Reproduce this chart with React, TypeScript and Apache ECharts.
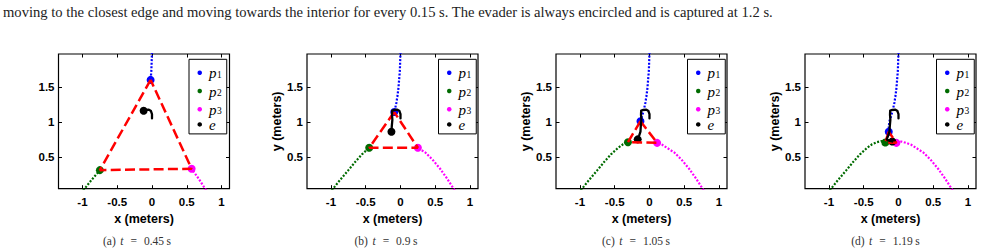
import React, { useEffect, useRef } from 'react';
import * as echarts from 'echarts';

// ---------- data ----------
const PANEL_TAGS = ['(a)', '(b)', '(c)', '(d)'];
const PANEL_TIMES = ['0.45', '0.9', '1.05', '1.19'];
const X_TICKS = [-1, -0.5, 0, 0.5, 1];
const Y_TICKS = [0.5, 1, 1.5];
const LEGEND_NAMES = ['p1', 'p2', 'p3', 'e'];

// pursuer p1 (blue) path, from the top
const P1_PATH = [
  [0.0, 2.0], [-0.005, 1.85], [-0.01, 1.72], [-0.02, 1.6], [-0.03, 1.48], [-0.045, 1.36],
  [-0.06, 1.27], [-0.075, 1.2], [-0.09, 1.14], [-0.11, 1.07], [-0.13, 1.01], [-0.14, 0.93],
  [-0.14, 0.86],
];
// pursuer p2 (green) path, from bottom-left
const P2_PATH = [
  [-0.99, 0.02], [-0.87, 0.17], [-0.75, 0.31], [-0.65, 0.43], [-0.55, 0.54], [-0.45, 0.63],
  [-0.38, 0.68], [-0.31, 0.71], [-0.25, 0.725], [-0.19, 0.705],
];
// pursuer p3 (magenta) path, from bottom-right
const P3_PATH = [
  [0.78, 0.02], [0.67, 0.19], [0.57, 0.33], [0.47, 0.45], [0.36, 0.56], [0.25, 0.63],
  [0.18, 0.675], [0.11, 0.7], [0.04, 0.72], [-0.03, 0.7],
];
// evader path
const E_PATH = [
  [0.0, 1.05], [0.0, 1.11], [-0.015, 1.155], [-0.045, 1.175], [-0.085, 1.172], [-0.12, 1.16],
  [-0.122, 1.1], [-0.117, 1.03], [-0.125, 0.94], [-0.13, 0.86], [-0.15, 0.8], [-0.17, 0.75],
  [-0.13, 0.73], [-0.09, 0.72],
];
// index of the current position in each path, per panel
const P1_IDX = [3, 8, 10, 12];
const P2_IDX = [2, 5, 7, 9];
const P3_IDX = [2, 5, 7, 9];
const E_IDX = [5, 9, 11, 13];

const TOP_TEXT =
  'moving to the closest edge and moving towards the interior for every 0.15 s. The evader is always encircled and is captured at 1.2 s.';

// ---------- layout / style ----------
const GRID_LEFTS = [58.5, 307, 556, 805];
const LEGEND_LEFTS = [189, 438.5, 687.5, 936.5];
const CAPTION_X = [137, 386, 636, 885.5];
const GRID_TOP = 54;
const GRID_W = 171;
const GRID_H = 134.7;
const X_MIN = -1.345;
const X_MAX = 1.115;
const Y_MIN = 0.045;
const Y_MAX = 1.97;

const BLUE = '#0000ff';
const GREEN = '#006b00';
const MAGENTA = '#ff00ff';
const RED = '#ff0000';
const BLACK = '#000000';

const SANS = 'Liberation Sans, Arial, sans-serif';
const SERIF = 'Liberation Serif, Times New Roman, serif';

function buildOption() {
  const grid: any[] = [];
  const xAxis: any[] = [];
  const yAxis: any[] = [];
  const series: any[] = [];
  const legend: any[] = [];
  const graphic: any[] = [];

  const tickLabel = {
    fontFamily: SANS,
    fontWeight: 'bold',
    fontSize: 11.5,
    color: '#000',
  };
  const tick = (vals: number[]) => ({
    show: true,
    inside: true,
    length: 3.5,
    customValues: vals,
    lineStyle: { color: '#000', width: 1 },
  });

  for (let k = 0; k < 4; k++) {
    grid.push({
      left: GRID_LEFTS[k],
      top: GRID_TOP,
      width: GRID_W,
      height: GRID_H,
      show: true,
      borderColor: '#000',
      borderWidth: 1.2,
      backgroundColor: '#fff',
      containLabel: false,
    });
    const baseX = {
      type: 'value',
      gridIndex: k,
      min: X_MIN,
      max: X_MAX,
      splitLine: { show: false },
      axisLine: { show: false, onZero: false },
    };
    const baseY = {
      type: 'value',
      gridIndex: k,
      min: Y_MIN,
      max: Y_MAX,
      splitLine: { show: false },
      axisLine: { show: false, onZero: false },
    };
    xAxis.push({
      ...baseX,
      position: 'bottom',
      axisTick: tick(X_TICKS),
      axisLabel: {
        show: true,
        customValues: X_TICKS,
        margin: 7,
        formatter: (v: number) => String(v),
        ...tickLabel,
      },
      name: 'x (meters)',
      nameLocation: 'middle',
      nameGap: 22,
      nameTextStyle: { fontFamily: SANS, fontWeight: 'bold', fontSize: 12.5, color: '#000' },
    });
    xAxis.push({
      ...baseX,
      position: 'top',
      axisTick: tick(X_TICKS),
      axisLabel: { show: false },
    });
    yAxis.push({
      ...baseY,
      position: 'left',
      axisTick: tick(Y_TICKS),
      axisLabel: {
        show: true,
        customValues: Y_TICKS,
        margin: 4,
        formatter: (v: number) => String(v),
        ...tickLabel,
      },
      name: k === 0 ? '' : 'y (meters)',
      nameLocation: 'middle',
      nameGap: 19,
      nameTextStyle: { fontFamily: SANS, fontWeight: 'bold', fontSize: 12.5, color: '#000' },
    });
    yAxis.push({
      ...baseY,
      position: 'right',
      axisTick: tick(Y_TICKS),
      axisLabel: { show: false },
    });

    const xi = 2 * k;
    const yi = 2 * k;
    const p1 = P1_PATH[P1_IDX[k]];
    const p2 = P2_PATH[P2_IDX[k]];
    const p3 = P3_PATH[P3_IDX[k]];
    const e = E_PATH[E_IDX[k]];

    const trail = (name: string, data: number[][], color: string) => ({
      type: 'line',
      name,
      xAxisIndex: xi,
      yAxisIndex: yi,
      data,
      showSymbol: false,
      symbol: 'none',
      smooth: false,
      lineStyle: { color, width: 2.2, type: [2, 1.6], cap: 'butt' },
      itemStyle: { color },
      silent: true,
    });
    const dot = (name: string, pt: number[], color: string) => ({
      type: 'scatter',
      name,
      xAxisIndex: xi,
      yAxisIndex: yi,
      data: [pt],
      symbol: 'circle',
      symbolSize: 8,
      itemStyle: { color, opacity: 1 },
      silent: true,
    });

    series.push(trail('p1 path', P1_PATH.slice(0, P1_IDX[k] + 1), BLUE));
    series.push(trail('p2 path', P2_PATH.slice(0, P2_IDX[k] + 1), GREEN));
    series.push(trail('p3 path', P3_PATH.slice(0, P3_IDX[k] + 1), MAGENTA));
    series.push(dot('p1', p1, BLUE));
    series.push(dot('p2', p2, GREEN));
    series.push(dot('p3', p3, MAGENTA));
    series.push({
      type: 'line',
      name: 'triangle',
      xAxisIndex: xi,
      yAxisIndex: yi,
      data: [p1, p2, p3, p1],
      showSymbol: false,
      symbol: 'none',
      lineStyle: { color: RED, width: 2.5, type: [10, 4.3], cap: 'butt' },
      itemStyle: { color: RED },
      silent: true,
    });
    series.push({
      type: 'line',
      name: 'e path',
      xAxisIndex: xi,
      yAxisIndex: yi,
      data: E_PATH.slice(0, E_IDX[k] + 1),
      showSymbol: false,
      symbol: 'none',
      lineStyle: { color: BLACK, width: 2.3, cap: 'round', join: 'round' },
      itemStyle: { color: BLACK },
      silent: true,
    });
    series.push(dot('e', e, BLACK));

    legend.push({
      data: LEGEND_NAMES,
      orient: 'vertical',
      left: LEGEND_LEFTS[k],
      top: 59.3,
      icon: 'circle',
      itemWidth: 4.5,
      itemHeight: 4.5,
      itemGap: 0.2,
      padding: [3.5, 5, 1.5, 8.5],
      borderColor: '#000',
      borderWidth: 1,
      backgroundColor: '#fff',
      selectedMode: false,
      formatter: (name: string) =>
        name === 'e' ? '{i|e}' : '{i|p}{s|' + name.slice(1) + '}',
      textStyle: {
        color: '#000',
        rich: {
          i: {
            fontFamily: SERIF,
            fontStyle: 'italic',
            fontSize: 15,
            lineHeight: 14,
            verticalAlign: 'top',
            padding: [0, 0, 0, 2],
            color: '#000',
          },
          s: {
            fontFamily: SERIF,
            fontSize: 9.5,
            lineHeight: 9,
            verticalAlign: 'bottom',
            padding: [7, 0, 0, 0.5],
            color: '#000',
          },
        },
      },
      z: 10,
    });

    graphic.push({
      type: 'text',
      x: CAPTION_X[k],
      y: 240.7,
      style: {
        text: '{n|' + PANEL_TAGS[k] + '}{i|t}{m|=}{n|' + PANEL_TIMES[k] + '}{s|s}',
        align: 'center',
        verticalAlign: 'middle',
        rich: {
          n: { fontFamily: SERIF, fontSize: 11.5, fill: '#333' },
          i: { fontFamily: SERIF, fontStyle: 'italic', fontSize: 11.5, fill: '#333', padding: [0, 0, 0, 4.5] },
          m: { fontFamily: SERIF, fontSize: 11.5, fill: '#333', padding: [0, 7, 0, 7] },
          s: { fontFamily: SERIF, fontSize: 11.5, fill: '#333', padding: [0, 0, 0, 2.5] },
        },
      },
    });
  }

  graphic.push({
    type: 'text',
    x: 3,
    y: 11.5,
    style: {
      text: TOP_TEXT,
      fontFamily: SERIF,
      fontSize: 14.6,
      fill: '#222',
      verticalAlign: 'middle',
      align: 'left',
    },
  });

  return {
    animation: false,
    backgroundColor: '#fff',
    grid,
    xAxis,
    yAxis,
    legend,
    series,
    graphic,
  };
}

export default function App() {
  const ref = useRef<HTMLDivElement>(null);
  useEffect(() => {
    if (!ref.current) return;
    const chart = echarts.init(ref.current, undefined, { renderer: 'svg' });
    chart.setOption(buildOption() as any);
    return () => chart.dispose();
  }, []);
  return (
    <div
      ref={ref}
      style={{ position: 'fixed', left: 0, top: 0, width: 983, height: 252, background: '#fff' }}
    />
  );
}
